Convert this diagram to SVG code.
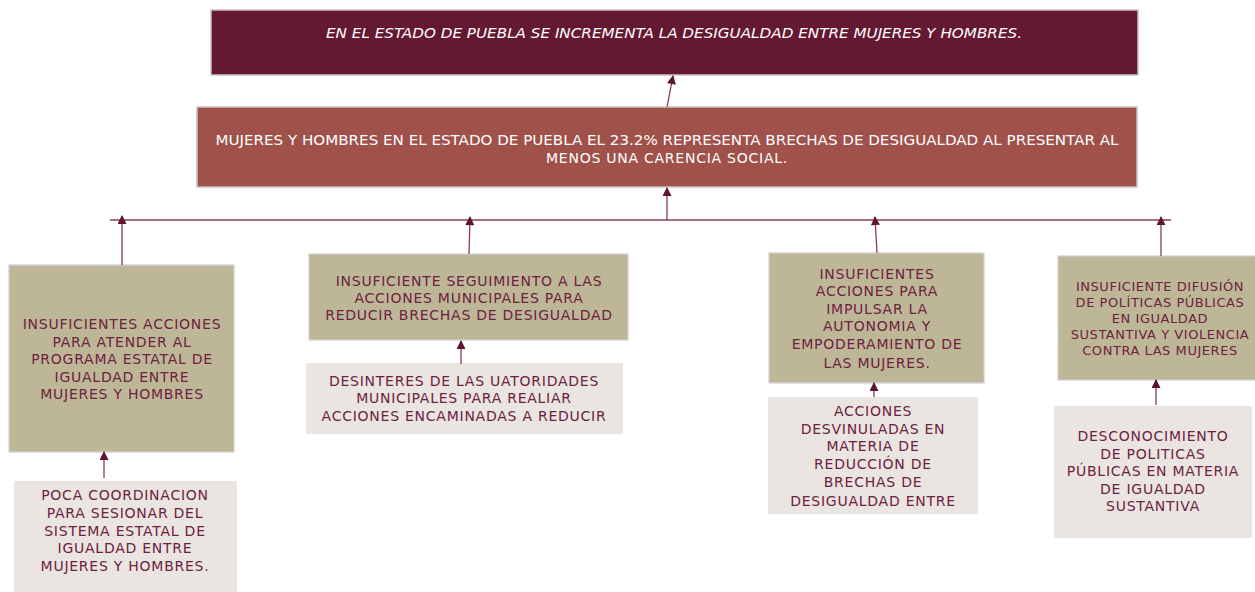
<svg xmlns="http://www.w3.org/2000/svg" width="1255" height="592" viewBox="0 0 1255 592">
<defs>
<marker id="ah" viewBox="0 0 10 10" refX="9" refY="5" markerWidth="10" markerHeight="9" orient="auto" markerUnits="userSpaceOnUse">
<path d="M0,0 L10,5 L0,10 z" fill="#5E1433"/>
</marker>
<style>
.t{font-family:"DejaVu Sans","Liberation Sans",sans-serif;font-size:14px;letter-spacing:0.75px;text-anchor:middle}
.w{fill:#ffffff}
.r{fill:#6E2140}
.c{stroke:#8A3C5A;stroke-width:1.3;fill:none}
.top{fill:#641832;stroke:#C9C3C6;stroke-width:1.5}
.mid{fill:#A0514A;stroke:#C9C3C6;stroke-width:1.5}
.ol{fill:#BDB797;stroke:#D4D0D4;stroke-width:1.2}
.lt{fill:#EAE5E0}
</style>
</defs>
<rect width="1255" height="592" fill="#ffffff"/>
<g id="n_top">
<rect class="top" x="211" y="10" width="927" height="65"/>
<text class="t w" x="674" y="38" font-style="italic" style="letter-spacing:0" textLength="696" lengthAdjust="spacingAndGlyphs">EN EL ESTADO DE PUEBLA SE INCREMENTA LA DESIGUALDAD ENTRE MUJERES Y HOMBRES.</text>
</g>
<g id="n_mid">
<rect class="mid" x="197" y="107" width="940" height="80"/>
<text class="t w" x="667" y="145" style="letter-spacing:0" textLength="903" lengthAdjust="spacingAndGlyphs">MUJERES Y HOMBRES EN EL ESTADO DE PUEBLA EL 23.2% REPRESENTA BRECHAS DE DESIGUALDAD AL PRESENTAR AL</text>
<text class="t w" x="667" y="163">MENOS UNA CARENCIA SOCIAL.</text>
</g>
<g id="n_c1">
<rect class="ol" x="9" y="265" width="225" height="187"/>
<text class="t r"><tspan x="122" y="329">INSUFICIENTES ACCIONES</tspan><tspan x="122" y="347">PARA ATENDER AL</tspan><tspan x="122" y="364">PROGRAMA ESTATAL DE</tspan><tspan x="122" y="382">IGUALDAD ENTRE</tspan><tspan x="122" y="399">MUJERES Y HOMBRES</tspan></text>
</g>
<g id="n_c1b">
<rect class="lt" x="14" y="481" width="223" height="115"/>
<text class="t r"><tspan x="125" y="500">POCA COORDINACION</tspan><tspan x="125" y="518">PARA SESIONAR DEL</tspan><tspan x="125" y="536">SISTEMA ESTATAL DE</tspan><tspan x="125" y="553">IGUALDAD ENTRE</tspan><tspan x="125" y="571">MUJERES Y HOMBRES.</tspan></text>
</g>
<g id="n_c2">
<rect class="ol" x="309" y="254" width="319" height="86"/>
<text class="t r"><tspan x="469" y="286">INSUFICIENTE SEGUIMIENTO A LAS</tspan><tspan x="469" y="303">ACCIONES MUNICIPALES PARA</tspan><tspan x="469" y="320">REDUCIR BRECHAS DE DESIGUALDAD</tspan></text>
</g>
<g id="n_c2b">
<rect class="lt" x="306" y="363" width="317" height="71"/>
<text class="t r"><tspan x="464" y="386">DESINTERES DE LAS UATORIDADES</tspan><tspan x="464" y="403">MUNICIPALES PARA REALIAR</tspan><tspan x="464" y="421">ACCIONES ENCAMINADAS A REDUCIR</tspan></text>
</g>
<g id="n_c3">
<rect class="ol" x="769" y="253" width="215" height="130"/>
<text class="t r"><tspan x="877" y="279">INSUFICIENTES</tspan><tspan x="877" y="296">ACCIONES PARA</tspan><tspan x="877" y="314">IMPULSAR LA</tspan><tspan x="877" y="331">AUTONOMIA Y</tspan><tspan x="877" y="349">EMPODERAMIENTO DE</tspan><tspan x="877" y="368">LAS MUJERES.</tspan></text>
</g>
<g id="n_c3b">
<rect class="lt" x="768" y="397" width="210" height="117"/>
<text class="t r"><tspan x="873" y="416">ACCIONES</tspan><tspan x="873" y="434">DESVINULADAS EN</tspan><tspan x="873" y="451">MATERIA DE</tspan><tspan x="873" y="469">REDUCCIÓN DE</tspan><tspan x="873" y="487">BRECHAS DE</tspan><tspan x="873" y="506">DESIGUALDAD ENTRE</tspan></text>
</g>
<g id="n_c4">
<rect class="ol" x="1058" y="256" width="200" height="124"/>
<text class="t r" style="font-size:13px;letter-spacing:0.55px"><tspan x="1160" y="291">INSUFICIENTE DIFUSIÓN</tspan><tspan x="1160" y="307">DE POLÍTICAS PÚBLICAS</tspan><tspan x="1160" y="323">EN IGUALDAD</tspan><tspan x="1160" y="339">SUSTANTIVA Y VIOLENCIA</tspan><tspan x="1160" y="355">CONTRA LAS MUJERES</tspan></text>
</g>
<g id="n_c4b">
<rect class="lt" x="1054" y="406" width="198" height="132"/>
<text class="t r"><tspan x="1153" y="441">DESCONOCIMIENTO</tspan><tspan x="1153" y="459">DE POLITICAS</tspan><tspan x="1153" y="476">PÚBLICAS EN MATERIA</tspan><tspan x="1153" y="494">DE IGUALDAD</tspan><tspan x="1153" y="511">SUSTANTIVA</tspan></text>
</g>
<g id="connectors">
<line class="c" x1="110" y1="220" x2="1171" y2="220"/>
<line class="c" x1="667" y1="107" x2="673" y2="76" marker-end="url(#ah)"/>
<line class="c" x1="667" y1="220" x2="667" y2="188" marker-end="url(#ah)"/>
<line class="c" x1="122" y1="265" x2="122" y2="216" marker-end="url(#ah)"/>
<line class="c" x1="469" y1="254" x2="470" y2="217" marker-end="url(#ah)"/>
<line class="c" x1="877" y1="253" x2="875" y2="217" marker-end="url(#ah)"/>
<line class="c" x1="1161" y1="256" x2="1161" y2="217" marker-end="url(#ah)"/>
<line class="c" x1="104" y1="478" x2="104" y2="452" marker-end="url(#ah)"/>
<line class="c" x1="461" y1="364" x2="461" y2="341" marker-end="url(#ah)"/>
<line class="c" x1="874" y1="397" x2="874" y2="383" marker-end="url(#ah)"/>
<line class="c" x1="1156" y1="405" x2="1156" y2="380" marker-end="url(#ah)"/>
</g>
</svg>
